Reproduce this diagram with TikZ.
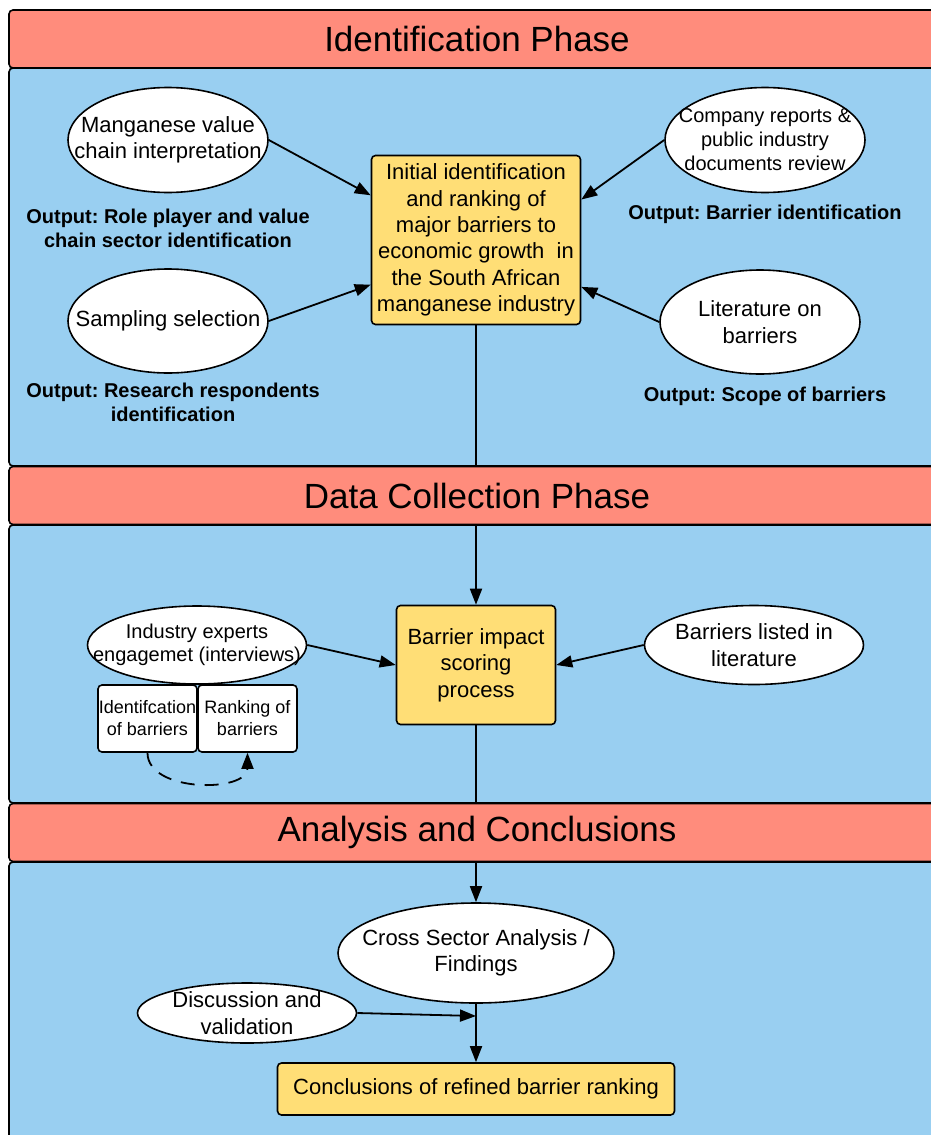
\documentclass[tikz,border=0pt]{standalone}
\usepackage{fontspec}
\setmainfont{Liberation Sans}
\usepackage{xcolor}
\usepackage{tikz}
\usetikzlibrary{arrows.meta}
\usetikzlibrary{shapes.geometric}
\frenchspacing
\definecolor{phasered}{HTML}{FF8C7C}
\definecolor{phaseblue}{HTML}{99CFF1}
\definecolor{procyellow}{HTML}{FFDE76}
\tikzstyle{phasebar}=[black, draw=black, line width=0.8pt, shape=rectangle, rounded corners=2pt, fill=phasered, minimum width=468pt, minimum height=29pt, inner sep=0pt, font=\fontsize{17.5}{21}\selectfont]
\tikzstyle{phasepanel}=[draw=black, line width=0.8pt, rounded corners=2pt, fill=phaseblue]
\tikzstyle{ellnode}=[black, draw=black, line width=0.8pt, shape=ellipse, fill=white, inner sep=-16pt, align=center, font=\fontsize{11}{13.2}\selectfont]
\tikzstyle{procnode}=[black, draw=black, line width=0.8pt, shape=rectangle, rounded corners=2pt, fill=procyellow, inner sep=0pt, align=center, font=\fontsize{11}{13.2}\selectfont]
\tikzstyle{subnode}=[black, draw=black, line width=0.8pt, shape=rectangle, rounded corners=2pt, fill=white, inner sep=0pt, align=center, minimum width=49.5pt, minimum height=33.5pt, font=\fontsize{9}{11}\selectfont]
\tikzstyle{outtext}=[black, shape=rectangle, inner sep=0pt, align=center, font=\fontsize{10}{12}\selectfont\bfseries]
\tikzstyle{flowarrow}=[-{Triangle[length=8pt, width=6pt]}, line width=0.9pt, color=black]

\begin{document}
\begin{tikzpicture}[x=0.5pt, y=-0.5pt]
\useasboundingbox (0,0) rectangle (931,1135);
\clip (0,0) rectangle (931,1135);

% panels
\draw[phasepanel] (9,68) rectangle (945,466);
\draw[phasepanel] (9,525) rectangle (945,803);
\draw[phasepanel] (9,862) rectangle (945,1150);

% identification phase
\node [procnode, minimum width=104.5pt, minimum height=84.5pt] (init) at (476,240) {Initial identification\\ and ranking of\\ major barriers to\\ economic growth\ \ in\\ the South African\\ manganese industry};
\node [ellnode, minimum width=100pt, minimum height=52.5pt] (mang) at (168,140) {Manganese value\\ chain interpretation};
\node [ellnode, minimum width=100pt, minimum height=52pt] (samp) at (168,321) {Sampling selection};
\node [ellnode, minimum width=100pt, minimum height=52.5pt, font=\fontsize{10}{12}\selectfont] (comp) at (765,140) {Company reports \&\\ public industry\\ documents review};
\node [ellnode, minimum width=100pt, minimum height=52pt] (lit) at (760,322) {Literature on\\ barriers};
\node [outtext] (outmang) at (168,228) {Output: Role player and value\\ chain sector identification};
\node [outtext] (outsamp) at (173,402) {Output: Research respondents\\ identification};
\node [outtext] (outcomp) at (765,214) {Output: Barrier identification};
\node [outtext] (outlit) at (765,396) {Output: Scope of barriers};

% data collection phase
\node [procnode, minimum width=79.5pt, minimum height=59.5pt] (score) at (476,665) {Barrier impact\\ scoring\\ process};
\node [ellnode, minimum width=109.5pt, minimum height=39pt, font=\fontsize{10}{11.5}\selectfont] (ind) at (197,645) {Industry experts\\ engagemet (interviews)};
\node [ellnode, minimum width=109.5pt, minimum height=39.5pt] (blit) at (754,645) {Barriers listed in\\ literature};
\node [subnode] (ident) at (147.5,718.5) {Identifcation\\ of barriers};
\node [subnode] (rank) at (247.5,718.5) {Ranking of\\ barriers};

% analysis and conclusions
\node [ellnode, minimum width=138pt, minimum height=50pt] (cross) at (476,953) {Cross Sector Analysis /\\ Findings};
\node [ellnode, minimum width=109.5pt, minimum height=30pt] (disc) at (247,1013) {Discussion and\\ validation};
\node [procnode, minimum width=198.5pt, minimum height=26pt] (final) at (476,1089) {Conclusions of refined barrier ranking};
\coordinate (dj) at (476,1016);

% connectors
\draw[flowarrow] (mang.east) -- (init.157);
\draw[flowarrow] (samp.east) -- (init.203);
\draw[flowarrow] (comp.west) -- (init.21);
\draw[flowarrow] (lit.west) -- (init.336);
\draw[flowarrow] (init.south) -- (score.north);
\draw[flowarrow] (ind.east) -- (score.west);
\draw[flowarrow] (blit.west) -- (score.east);
\draw[flowarrow, dash pattern=on 7pt off 5pt] (ident.south) .. controls +(0,40) and +(0,40) .. (rank.south);
\draw[flowarrow] (score.south) -- (cross.north);
\draw[flowarrow] (disc.east) -- (dj);
\draw[flowarrow] (cross.south) -- (final.north);

% phase bars
\node [phasebar] (hident) at (477,39) {Identification Phase};
\node [phasebar] (hdata) at (477,495.5) {Data Collection Phase};
\node [phasebar] (hanal) at (477,832.5) {Analysis and Conclusions};
\end{tikzpicture}
\end{document}
